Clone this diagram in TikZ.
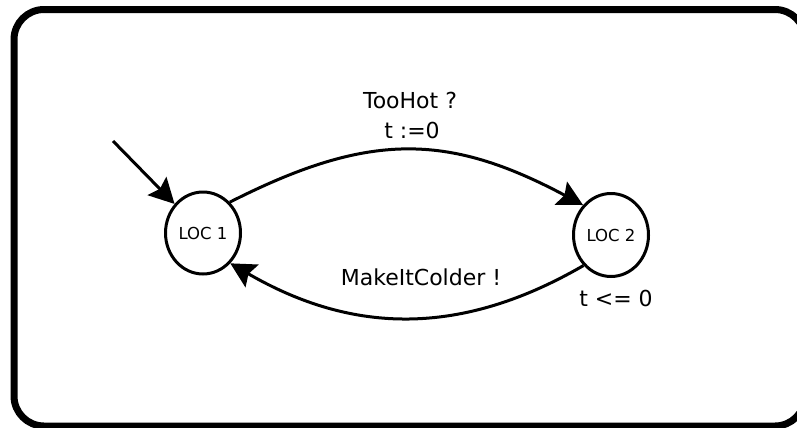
\documentclass[tikz,border=0pt]{standalone}
\usepackage{fontspec}
\setmainfont{DejaVu Sans}
\usetikzlibrary{arrows.meta,shapes.geometric}
\begin{document}
\begin{tikzpicture}[x=1bp,y=-1bp,
  loc/.style={draw,ellipse,line width=3bp,inner sep=0pt,
    font=\fontsize{16.5bp}{18bp}\selectfont},
  trans/.style={line width=3bp,-{Stealth[length=25bp,width=26bp,inset=4bp]}},
  lbl/.style={anchor=base,inner sep=0pt,font=\fontsize{22bp}{24bp}\selectfont}]
  \useasboundingbox (0,0) rectangle (797,427);
  \clip (0,0) rectangle (797,427);
  % outer frame
  \draw[line width=7bp,rounded corners=30bp] (14,9.5) rectangle (805,426);
  % locations
  \node[loc,minimum width=75bp,minimum height=82bp] (loc1) at (203,233) {LOC 1};
  \node[loc,minimum width=75bp,minimum height=83bp] (loc2) at (611,235) {LOC 2};
  % initial arrow
  \coordinate (init) at (113,141);
  \draw[trans] (init) -- (loc1);
  % transitions
  \draw[trans] (loc1.49) .. controls (368,132) and (447,132.5) .. (loc2.133);
  \draw[trans] (loc2.228) .. controls (461,336.5) and (353,334.5) .. (loc1.312);
  % labels
  \node[lbl] (sync1) at (410,108) {TooHot ?};
  \node[lbl] (reset1) at (412,138) {t :=0};
  \node[lbl] (sync2) at (421,285) {MakeItColder !};
  \node[lbl] (inv2) at (616,306) {t <= 0};
\end{tikzpicture}
\end{document}
